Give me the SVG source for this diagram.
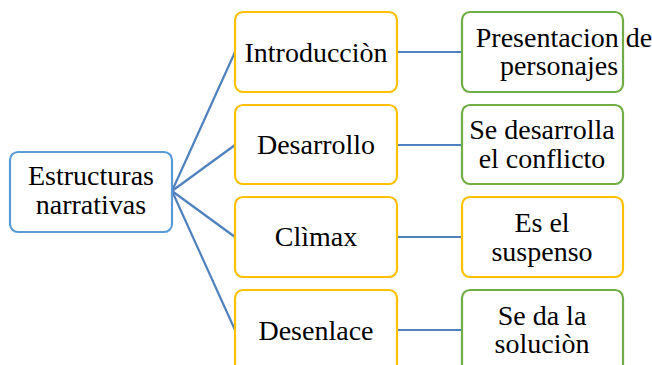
<svg xmlns="http://www.w3.org/2000/svg" width="652" height="365" viewBox="0 0 652 365">
<style>
.box{fill:#fff;stroke-width:2.2}
.root{stroke:#5b9bd5}
.y{stroke:#ffc000}
.g{stroke:#70ad47}
.c line{stroke:#4f81bd;stroke-width:2.2}
</style>
<rect width="652" height="365" fill="#fff"/>
<g class="c" id="connectors">
<line x1="172" y1="191" x2="235" y2="52"/>
<line x1="172" y1="191" x2="235" y2="145"/>
<line x1="172" y1="191" x2="235" y2="237"/>
<line x1="172" y1="191" x2="235" y2="330"/>
<line x1="397" y1="52" x2="462" y2="52"/>
<line x1="397" y1="145" x2="462" y2="145"/>
<line x1="397" y1="237" x2="462" y2="237"/>
<line x1="397" y1="330" x2="462" y2="330"/>
</g>
<g font-family="'Liberation Serif', 'DejaVu Serif', serif" font-size="28" fill="#000" text-anchor="middle">
<g id="root">
<rect class="box root" x="10" y="152" width="162" height="80" rx="8"/>
<text x="91" y="185">Estructuras</text>
<text x="91" y="214">narrativas</text>
</g>
<g id="intro">
<rect class="box y" x="235" y="12" width="162" height="80" rx="8"/>
<text x="316" y="62">Introducciòn</text>
</g>
<g id="desarrollo">
<rect class="box y" x="235" y="105" width="162" height="79" rx="8"/>
<text x="316" y="154">Desarrollo</text>
</g>
<g id="climax">
<rect class="box y" x="235" y="197" width="162" height="80" rx="8"/>
<text x="316" y="246">Clìmax</text>
</g>
<g id="desenlace">
<rect class="box y" x="235" y="290" width="162" height="84" rx="8"/>
<text x="316" y="340">Desenlace</text>
</g>
<g id="presentacion">
<rect class="box g" x="462" y="12" width="161" height="80" rx="8"/>
<text x="564" y="47">Presentacion de</text>
<text x="559" y="75">personajes</text>
</g>
<g id="conflicto">
<rect class="box g" x="462" y="105" width="161" height="79" rx="8"/>
<text x="542" y="139">Se desarrolla</text>
<text x="542" y="168">el conflicto</text>
</g>
<g id="suspenso">
<rect class="box y" x="462" y="197" width="161" height="80" rx="8"/>
<text x="542" y="232">Es el</text>
<text x="542" y="261">suspenso</text>
</g>
<g id="solucion">
<rect class="box g" x="462" y="290" width="161" height="84" rx="8"/>
<text x="542" y="325">Se da la</text>
<text x="542" y="353">soluciòn</text>
</g>
</g>
</svg>
